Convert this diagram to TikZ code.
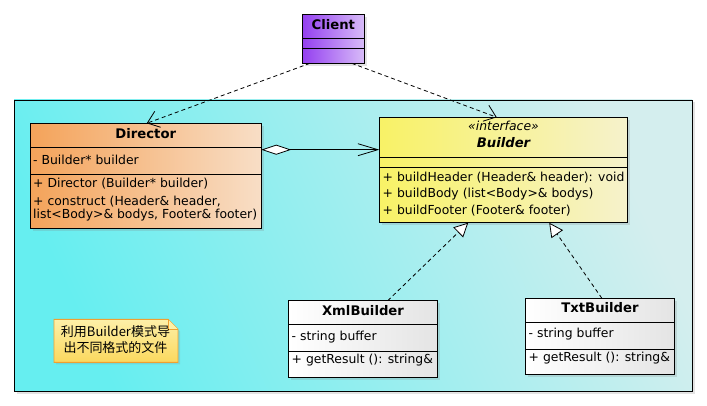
\documentclass[tikz,border=0pt]{standalone}
\usepackage{fontspec}
\setmainfont{DejaVu Sans}
\newfontfamily\cjk{Noto Sans CJK SC}
\usetikzlibrary{arrows.meta,shadows,calc}
\definecolor{pkgA}{HTML}{66EEF0}
\definecolor{pkgB}{HTML}{D4EEEE}
\definecolor{dirA}{HTML}{F4A35A}
\definecolor{dirB}{HTML}{F8DEC6}
\definecolor{bldA}{HTML}{F8F266}
\definecolor{bldB}{HTML}{F6F2CC}
\definecolor{cliA}{HTML}{9440F0}
\definecolor{cliB}{HTML}{D8BCF8}
\definecolor{whtB}{HTML}{E4E4E4}
\definecolor{noteA}{HTML}{FDF0A8}
\definecolor{noteB}{HTML}{FBD85E}
\definecolor{noteD}{HTML}{F0A030}
\begin{document}
\begin{tikzpicture}[x=1pt,y=-1pt,
  font=\fontsize{12.4}{14}\selectfont,
  umlbox/.style={draw=black, line width=0.9pt, inner sep=0pt, outer sep=0pt, anchor=north west,
    drop shadow={shadow xshift=2.5pt, shadow yshift=-2.5pt, opacity=0.22}},
  title/.style={font=\fontsize{13.2}{15}\selectfont\bfseries, inner sep=0pt},
  member/.style={anchor=west, inner sep=0pt},
  sep/.style={line width=0.9pt},
  dep/.style={line width=0.8pt, dash pattern=on 4pt off 3pt, -{Straight Barb[length=11pt,width=17pt]}},
  agg/.style={line width=0.8pt, {Diamond[length=30pt,width=10pt,fill=white]}-{Straight Barb[length=20pt,width=12pt]}},
  real/.style={line width=0.8pt, dash pattern=on 4pt off 3pt, -{Triangle[length=14pt,width=14pt,fill=white]}},
  notebox/.style={draw=noteD, line width=0.9pt, top color=noteA, bottom color=noteB,
    drop shadow={shadow xshift=2pt, shadow yshift=-2pt, opacity=0.2}}
]
\useasboundingbox (0,0) rectangle (707,406);

% package background
\node[umlbox, minimum width=678pt, minimum height=291pt, left color=pkgA, right color=pkgB, shading angle=115] (pkg) at (14,100) {};

% Client
\node[umlbox, minimum width=62pt, minimum height=49pt, left color=cliA, right color=cliB] (client) at (302.3,14.3) {};
\node[title] (clientT) at (333.3,25) {Client};
\draw[sep] ($(client.north west)+(0,24.4)$) -- ($(client.north east)+(0,24.4)$);
\draw[sep] ($(client.north west)+(0,34.4)$) -- ($(client.north east)+(0,34.4)$);

% Director
\node[umlbox, minimum width=231pt, minimum height=105pt, left color=dirA, right color=dirB] (dir) at (30.3,123.3) {};
\node[title] (dirT) at (145.8,133.5) {Director};
\draw[sep] ($(dir.north west)+(0,24)$) -- ($(dir.north east)+(0,24)$);
\draw[sep] ($(dir.north west)+(0,50.7)$) -- ($(dir.north east)+(0,50.7)$);
\node[member] (dirA1) at (33,160) {- Builder* builder};
\node[member] (dirM1) at (33,184) {+ Director (Builder* builder)};
\node[member] (dirM2) at (33,201.5) {+ construct (Header\& header,};
\node[member] (dirM3) at (33,215) {list<Body>\& bodys, Footer\& footer)};

% Builder
\node[umlbox, minimum width=248.4pt, minimum height=105.4pt, left color=bldA, right color=bldB] (bld) at (379.3,117.3) {};
\node[inner sep=0pt, font=\fontsize{12.4}{14}\selectfont\itshape] (bldS) at (503.5,125.7) {«interface»};
\node[title, font=\fontsize{13.2}{15}\selectfont\bfseries\itshape] (bldT) at (503.5,142.5) {Builder};
\draw[sep] ($(bld.north west)+(0,40)$) -- ($(bld.north east)+(0,40)$);
\draw[sep] ($(bld.north west)+(0,50)$) -- ($(bld.north east)+(0,50)$);
\node[member] (bldM1) at (382.5,177.3) {+ buildHeader (Header\& header): void};
\node[member] (bldM2) at (382.5,194.5) {+ buildBody (list<Body>\& bodys)};
\node[member] (bldM3) at (382.5,211) {+ buildFooter (Footer\& footer)};

% XmlBuilder
\node[umlbox, minimum width=148.8pt, minimum height=76.6pt, left color=white, right color=whtB] (xml) at (288.5,300.7) {};
\node[title] (xmlT) at (363,310.5) {XmlBuilder};
\draw[sep] ($(xml.north west)+(0,23.6)$) -- ($(xml.north east)+(0,23.6)$);
\draw[sep] ($(xml.north west)+(0,50.3)$) -- ($(xml.north east)+(0,50.3)$);
\node[member] (xmlA1) at (291.5,337) {- string buffer};
\node[member] (xmlM1) at (291.5,360.5) {+ getResult (): string\&};

% TxtBuilder
\node[umlbox, minimum width=148.8pt, minimum height=76pt, left color=white, right color=whtB] (txt) at (525.7,298.3) {};
\node[title] (txtT) at (600,308) {TxtBuilder};
\draw[sep] ($(txt.north west)+(0,24)$) -- ($(txt.north east)+(0,24)$);
\draw[sep] ($(txt.north west)+(0,51.4)$) -- ($(txt.north east)+(0,51.4)$);
\node[member] (txtA1) at (528.5,334.5) {- string buffer};
\node[member] (txtM1) at (528.5,358.5) {+ getResult (): string\&};

% Note
\path[notebox] (54,319.3) -- (168,319.3) -- (178,329.3) -- (178,362.3) -- (54,362.3) -- cycle;
\draw[draw=noteD, line width=0.8pt, fill=noteA] (168,319.3) -- (168,329.3) -- (178,329.3);
\node[inner sep=0pt, align=center, font=\cjk\fontsize{13}{16}\selectfont] (note) at (115.5,339.5) {利用Builder模式导\\出不同格式的文件};

% connectors
\draw[dep] ($(client.south west)!0.124!(client.south east)$) -- ($(dir.north west)!0.504!(dir.north east)$);
\draw[dep] ($(client.south west)!0.797!(client.south east)$) -- ($(bld.north west)!0.473!(bld.north east)$);
\draw[agg] ($(dir.north east)+(0,26.4)$) -- ($(bld.north west)+(0,32.4)$);
\draw[real] ($(xml.north west)!0.667!(xml.north east)$) -- ($(bld.south west)!0.358!(bld.south east)$);
\draw[real] ($(txt.north west)!0.512!(txt.north east)$) -- ($(bld.south west)!0.684!(bld.south east)$);
\end{tikzpicture}
\end{document}
